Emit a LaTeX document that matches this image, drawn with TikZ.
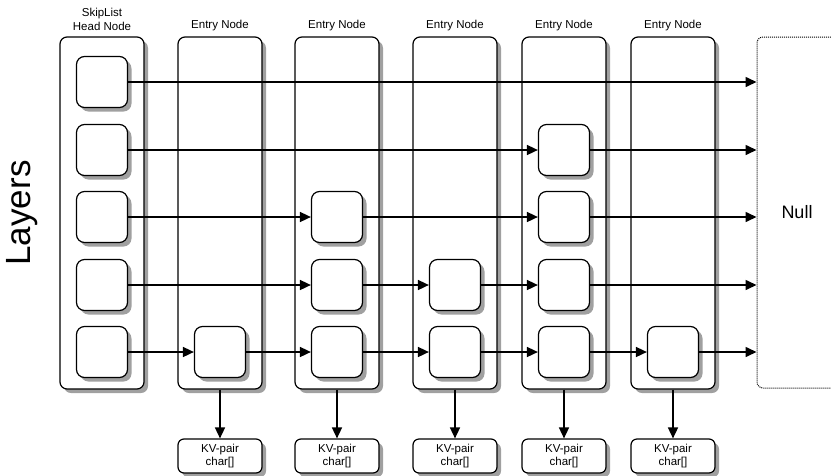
\documentclass[tikz,border=0pt]{standalone}
\usepackage{fontspec}
\setmainfont{Liberation Sans}
\usetikzlibrary{arrows.meta}

\definecolor{cinza}{RGB}{160,160,160}

\tikzset{
    coluna/.style={draw, line width=1.2pt, rounded corners=7pt, fill=white,
        minimum width=84pt, minimum height=352pt},
    nivel/.style={draw, line width=1.2pt, rounded corners=8pt, fill=white,
        minimum width=51pt, minimum height=51pt},
    kvbox/.style={draw, line width=1.2pt, rounded corners=6pt, fill=white,
        minimum width=84pt, minimum height=34pt, align=center,
        font=\fontsize{11.5}{12.5}\selectfont},
    nulo/.style={draw, line width=1pt, dash pattern=on 1pt off 1pt, rounded corners=6pt,
        minimum width=80pt, minimum height=351pt, font=\fontsize{18}{20}\selectfont},
    rotulo/.style={align=center, font=\fontsize{11.5}{14}\selectfont},
    seta/.style={line width=1.6pt, -{Triangle[length=11pt,width=10pt]}}
}

% caixa com sombra: estilo, nome, posicao, texto
\newcommand{\caixa}[4]{%
    \node[#1, draw=none, fill=cinza, xshift=4pt, yshift=-4pt] at #3 {};
    \node[#1] (#2) at #3 {#4};}

\begin{document}
\begin{tikzpicture}[x=1pt, y=-1pt]
    \useasboundingbox (0,0) rectangle (831,475);

    % Rotulos
    \node[rotulo] (lblh) at (102,19) {SkipList\\Head Node};
    \node[rotulo] (lbl1) at (220,26) {Entry Node};
    \node[rotulo] (lbl2) at (337,26) {Entry Node};
    \node[rotulo] (lbl3) at (455,26) {Entry Node};
    \node[rotulo] (lbl4) at (564,26) {Entry Node};
    \node[rotulo] (lbl5) at (673,26) {Entry Node};
    \node[rotate=90, font=\fontsize{35}{38}\selectfont] (layers) at (22,213) {Layers};

    % Colunas
    \caixa{coluna}{head}{(102,213)}{}
    \caixa{coluna}{e1}{(220,213)}{}
    \caixa{coluna}{e2}{(337,213)}{}
    \caixa{coluna}{e3}{(455,213)}{}
    \caixa{coluna}{e4}{(564,213)}{}
    \caixa{coluna}{e5}{(673,213)}{}

    % Niveis do head
    \caixa{nivel}{h1}{(102,82)}{}
    \caixa{nivel}{h2}{(102,150)}{}
    \caixa{nivel}{h3}{(102,217)}{}
    \caixa{nivel}{h4}{(102,285)}{}
    \caixa{nivel}{h5}{(102,352)}{}

    % Niveis das entradas
    \caixa{nivel}{e1r5}{(220,352)}{}
    \caixa{nivel}{e2r3}{(337,217)}{}
    \caixa{nivel}{e2r4}{(337,285)}{}
    \caixa{nivel}{e2r5}{(337,352)}{}
    \caixa{nivel}{e3r4}{(455,285)}{}
    \caixa{nivel}{e3r5}{(455,352)}{}
    \caixa{nivel}{e4r2}{(564,150)}{}
    \caixa{nivel}{e4r3}{(564,217)}{}
    \caixa{nivel}{e4r4}{(564,285)}{}
    \caixa{nivel}{e4r5}{(564,352)}{}
    \caixa{nivel}{e5r5}{(673,352)}{}

    % Null
    \node[nulo] (null) at (797,212.5) {Null};

    % KV-pairs
    \caixa{kvbox}{kv1}{(220,456)}{KV-pair\\char[]}
    \caixa{kvbox}{kv2}{(337,456)}{KV-pair\\char[]}
    \caixa{kvbox}{kv3}{(455,456)}{KV-pair\\char[]}
    \caixa{kvbox}{kv4}{(564,456)}{KV-pair\\char[]}
    \caixa{kvbox}{kv5}{(673,456)}{KV-pair\\char[]}

    % Ligacoes
    \draw[seta] (h1) -- (h1 -| null.west);
    \draw[seta] (h2) -- (e4r2);
    \draw[seta] (e4r2) -- (e4r2 -| null.west);
    \draw[seta] (h3) -- (e2r3);
    \draw[seta] (e2r3) -- (e4r3);
    \draw[seta] (e4r3) -- (e4r3 -| null.west);
    \draw[seta] (h4) -- (e2r4);
    \draw[seta] (e2r4) -- (e3r4);
    \draw[seta] (e3r4) -- (e4r4);
    \draw[seta] (e4r4) -- (e4r4 -| null.west);
    \draw[seta] (h5) -- (e1r5);
    \draw[seta] (e1r5) -- (e2r5);
    \draw[seta] (e2r5) -- (e3r5);
    \draw[seta] (e3r5) -- (e4r5);
    \draw[seta] (e4r5) -- (e5r5);
    \draw[seta] (e5r5) -- (e5r5 -| null.west);

    % Para os KV-pairs
    \draw[seta] (e1) -- (kv1);
    \draw[seta] (e2) -- (kv2);
    \draw[seta] (e3) -- (kv3);
    \draw[seta] (e4) -- (kv4);
    \draw[seta] (e5) -- (kv5);
\end{tikzpicture}
\end{document}
